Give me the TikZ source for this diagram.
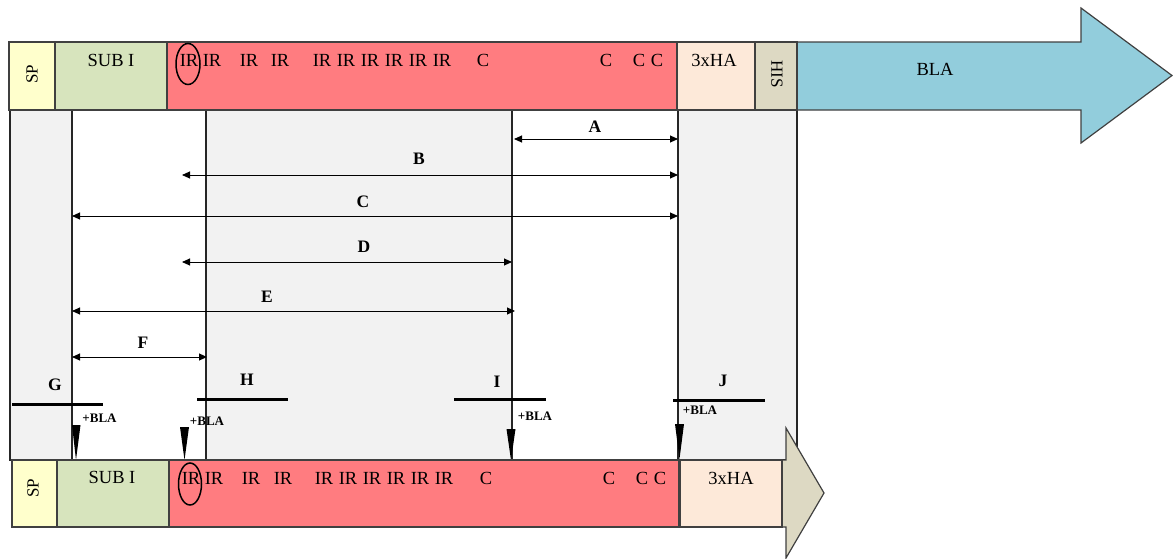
\documentclass[tikz,border=0pt]{standalone}
\usepackage{fontspec}
\setmainfont{Liberation Serif}
\usetikzlibrary{arrows.meta,shapes.geometric}
\definecolor{spy}{HTML}{FFFFCC}
\definecolor{subg}{HTML}{D7E4BD}
\definecolor{irred}{HTML}{FF7C80}
\definecolor{hab}{HTML}{FDE9D9}
\definecolor{hisc}{HTML}{DDD9C3}
\definecolor{blac}{HTML}{92CDDC}
\definecolor{panelc}{HTML}{F2F2F2}
\definecolor{edge}{HTML}{404040}
\begin{document}
\begin{tikzpicture}[x=1pt,y=-1pt,
  seg/.style={draw=edge,line width=1.2pt,inner sep=0,outer sep=0,anchor=north west},
  pan/.style={draw=black!85,fill=panelc,line width=1.1pt,inner sep=0,outer sep=0,anchor=north west,minimum height=350pt},
  boxtxt/.style={font=\fontsize{18.5}{20}\selectfont,inner sep=0},
  sidetxt/.style={font=\fontsize{17}{19}\selectfont,inner sep=0},
  lbl/.style={font=\fontsize{17.5}{20}\selectfont\bfseries,inner sep=0},
  plus/.style={font=\fontsize{13}{15}\selectfont\bfseries,inner sep=0},
  dim/.style={{Triangle[length=8pt,width=7pt]}-{Triangle[length=8pt,width=7pt]},line width=0.9pt},
  hbar/.style={line width=3pt},
  ring/.style={draw,ellipse,line width=1.5pt,inner sep=0}
]
\useasboundingbox (0,0) rectangle (1173,558);
% background panels
\node[pan,minimum width=62pt] (p1) at (10,110) {};
\node[pan,minimum width=306pt] (p2) at (206,110) {};
\node[pan,minimum width=119pt] (p3) at (678,110) {};
% dimension arrows
\coordinate (a1) at (514,139); \coordinate (a2) at (678,139);
\coordinate (b1) at (182,175); \coordinate (b2) at (678,175);
\coordinate (c1) at (72,216); \coordinate (c2) at (678,216);
\coordinate (d1) at (182,262); \coordinate (d2) at (512,262);
\coordinate (e1) at (72,311); \coordinate (e2) at (515,311);
\coordinate (f1) at (72,357); \coordinate (f2) at (207,357);
\draw[dim] (a1) -- (a2);
\draw[dim] (b1) -- (b2);
\draw[dim] (c1) -- (c2);
\draw[dim] (d1) -- (d2);
\draw[dim] (e1) -- (e2);
\draw[dim] (f1) -- (f2);
\node[lbl] (la) at (595,127) {A};
\node[lbl] (lb) at (419,159) {B};
\node[lbl] (lc) at (363,202) {C};
\node[lbl] (ld) at (364,247) {D};
\node[lbl] (le) at (267,297) {E};
\node[lbl] (lf) at (143,343) {F};
% cut markers
\coordinate (g1) at (12,404); \coordinate (g2) at (103,404);
\coordinate (h1) at (197,399); \coordinate (h2) at (288,399);
\coordinate (i1) at (454,399); \coordinate (i2) at (546,399);
\coordinate (j1) at (673,400); \coordinate (j2) at (765,400);
\draw[hbar] (g1) -- (g2);
\draw[hbar] (h1) -- (h2);
\draw[hbar] (i1) -- (i2);
\draw[hbar] (j1) -- (j2);
\node[lbl] (lg) at (55,385) {G};
\node[lbl] (lh) at (247,380) {H};
\node[lbl] (li) at (497,382) {I};
\node[lbl] (lj) at (723,381) {J};
\node[plus] (pg) at (99.5,418) {+BLA};
\node[plus] (ph) at (207,421) {+BLA};
\node[plus] (pi) at (535,416) {+BLA};
\node[plus] (pj) at (700,410) {+BLA};
\fill (72,425) -- (80.5,425) -- (76,460) -- cycle;
\fill (180,427) -- (189,427) -- (184.5,460) -- cycle;
\fill (506.5,429) -- (515.5,429) -- (511,460) -- cycle;
\fill (675,424) -- (684,424) -- (679.5,459) -- cycle;
% top bar
\draw[draw=edge,line width=1.2pt,fill=blac] (790,42) -- (1081,42) -- (1081,8) -- (1172,75.5) -- (1081,143) -- (1081,110) -- (790,110) -- cycle;
\node[seg,fill=spy,minimum width=46pt,minimum height=68pt] (sp1) at (9,42) {};
\node[seg,fill=subg,minimum width=112pt,minimum height=68pt] (sub1) at (55,42) {};
\node[seg,fill=irred,minimum width=510pt,minimum height=68pt] (ir1) at (167,42) {};
\node[seg,fill=hab,minimum width=78pt,minimum height=68pt] (ha1) at (677,42) {};
\node[seg,fill=hisc,minimum width=42pt,minimum height=68pt] (his1) at (755,42) {};
\node[sidetxt,rotate=90] (tsp1) at (32,74) {SP};
\node[boxtxt] (tsub1) at (111,60) {SUB I};
\node[boxtxt] (tha1) at (714,60) {3xHA};
\node[sidetxt,rotate=-90] (this1) at (777,74) {HIS};
\node[boxtxt] (tbla) at (935,69) {BLA};
\foreach \x [count=\k] in {189,212,249,280,322,346,370,394,418,442}
  \node[boxtxt] (tir\k) at (\x,60) {IR};
\foreach \x [count=\k] in {483,606,639,657}
  \node[boxtxt] (tc\k) at (\x,60) {C};
\node[ring,minimum width=24pt,minimum height=41pt] (ring1) at (188,64) {};
% bottom bar
\draw[draw=edge,line width=1.2pt,fill=hisc] (760,460) -- (786,460) -- (786,428) -- (824,493) -- (786,558) -- (786,527) -- (760,527) -- cycle;
\node[seg,fill=spy,minimum width=45pt,minimum height=67pt] (sp2) at (12,460) {};
\node[seg,fill=subg,minimum width=112pt,minimum height=67pt] (sub2) at (57,460) {};
\node[seg,fill=irred,minimum width=510pt,minimum height=67pt] (ir2) at (169,460) {};
\node[seg,fill=hab,minimum width=102pt,minimum height=67pt] (ha2) at (680,460) {};
\node[sidetxt,rotate=90] (tsp2) at (33,488) {SP};
\node[boxtxt] (tsub2) at (112,477) {SUB I};
\node[boxtxt] (tha2) at (731,478) {3xHA};
\foreach \x [count=\k] in {191,214,251,283,324,348,372,396,420,444}
  \node[boxtxt] (bir\k) at (\x,478) {IR};
\foreach \x [count=\k] in {486,609,642,660}
  \node[boxtxt] (bc\k) at (\x,478) {C};
\node[ring,minimum width=23pt,minimum height=42pt] (ring2) at (190,484) {};
\end{tikzpicture}
\end{document}
